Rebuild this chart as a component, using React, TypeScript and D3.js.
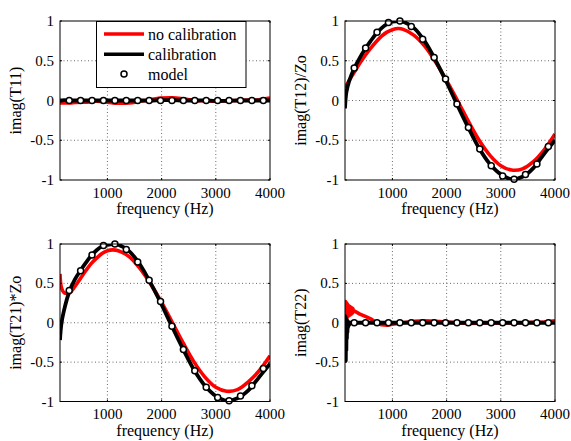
import React from "react";
import * as d3 from "d3";

// ---------- data ----------
const freq = [125, 150, 200, 300, 400, 500, 600, 700, 800, 900, 1000, 1100, 1200, 1400, 1600, 1800, 2000, 2200, 2400, 2600, 2800, 3000, 3200, 3400, 3600, 3800, 4000];

const t11NoCal = [-0.03, -0.03, -0.03, -0.03, -0.025, -0.02, -0.02, -0.015, -0.01, -0.015, -0.02, -0.03, -0.035, -0.03, -0.01, 0.01, 0.03, 0.035, 0.02, 0.0, -0.005, -0.01, -0.005, 0.0, 0.005, 0.01, 0.03];
const t11Cal = [0.0, 0.0, 0.005, 0.0, 0.0, 0.0, 0.0, 0.0, 0.0, 0.0, 0.0, 0.0, 0.0, 0.0, 0.0, 0.0, 0.005, 0.005, 0.0, 0.0, 0.0, -0.005, -0.005, 0.0, 0.0, 0.0, 0.0];

const t12NoCal = [0.16, 0.19, 0.25, 0.36, 0.47, 0.57, 0.66, 0.74, 0.81, 0.86, 0.89, 0.905, 0.895, 0.82, 0.68, 0.48, 0.25, 0.0, -0.26, -0.5, -0.69, -0.82, -0.875, -0.86, -0.77, -0.62, -0.42];
const t12Cal = [-0.1, 0.1, 0.24, 0.41, 0.54, 0.65, 0.75, 0.84, 0.91, 0.96, 0.99, 1.0, 0.99, 0.91, 0.74, 0.5, 0.23, -0.06, -0.34, -0.6, -0.8, -0.93, -0.99, -0.96, -0.85, -0.67, -0.5];

const t21NoCal = [0.62, 0.45, 0.38, 0.38, 0.46, 0.56, 0.66, 0.75, 0.82, 0.88, 0.915, 0.925, 0.915, 0.84, 0.69, 0.49, 0.26, 0.0, -0.26, -0.5, -0.69, -0.82, -0.87, -0.85, -0.75, -0.61, -0.42];
const t21Cal = [-0.22, -0.02, 0.16, 0.4, 0.55, 0.66, 0.76, 0.85, 0.92, 0.97, 0.99, 1.0, 0.99, 0.91, 0.74, 0.5, 0.23, -0.06, -0.34, -0.6, -0.8, -0.93, -0.99, -0.96, -0.86, -0.69, -0.52];

const freqT22 = [125, 130, 135, 140, 145, 150, 155, 160, 165, 170, 175, 180, 190, 200, 210, 220, 230, 240, 250, 260, 270, 280, 300, 400, 500, 600, 700, 800, 900, 1000, 1200, 1400, 1600, 1800, 2000, 2200, 2400, 2600, 2800, 3000, 3200, 3400, 3600, 3800, 4000];
const t22NoCal = [0.28, 0.06, 0.27, 0.05, 0.26, 0.05, 0.25, 0.06, 0.24, 0.07, 0.23, 0.08, 0.22, 0.09, 0.21, 0.1, 0.2, 0.11, 0.19, 0.12, 0.18, 0.14, 0.15, 0.11, 0.08, 0.05, 0.0, -0.025, -0.03, -0.02, 0.0, 0.02, 0.025, 0.02, 0.01, 0.0, -0.01, -0.005, 0.0, -0.005, 0.0, 0.0, 0.005, 0.01, 0.025];
const t22Cal = [0.1, -0.3, 0.08, -0.48, 0.05, -0.35, 0.04, -0.2, 0.03, -0.12, 0.02, -0.06, 0.01, -0.03, 0.0, 0.0, 0.0, 0.0, 0.0, 0.0, 0.0, 0.0, 0.0, 0.0, 0.0, 0.0, 0.0, 0.0, 0.0, 0.0, 0.0, 0.0, 0.0, 0.0, 0.0, 0.0, 0.0, 0.0, 0.0, 0.0, 0.0, 0.0, 0.0, 0.0, 0.0];

const modelFreq = [295, 505, 716, 927, 1138, 1348, 1559, 1770, 1980, 2191, 2402, 2612, 2823, 3034, 3245, 3455, 3666, 3877];
const modelDiag = [0, 0, 0, 0, 0, 0, 0, 0, 0, 0, 0, 0, 0, 0, 0, 0, 0, 0];
const modelOff = [0.41, 0.66, 0.86, 0.98, 1.0, 0.93, 0.77, 0.54, 0.27, -0.045, -0.34, -0.61, -0.82, -0.95, -0.99, -0.93, -0.8, -0.58];

const xTicks = [1000, 2000, 3000, 4000];
const yTicks = [-1, -0.5, 0, 0.5, 1];
const yTickLabels = ["-1", "-0.5", "0", "0.5", "1"];
const legendLabels = ["no calibration", "calibration", "model"];

// ---------- layout ----------
const FONT = { fontFamily: "Liberation Serif" };

type PanelSpec = {
  id: string;
  x0: number; x1: number; y0: number; y1: number;
  ylabel: string;
  f: number[]; red: number[]; black: number[];
  model: number[];
  smooth: boolean;
  legend?: boolean;
};

const panels: PanelSpec[] = [
  { id: "p11", x0: 60, x1: 270, y0: 21, y1: 180, ylabel: "imag(T11)", f: freq, red: t11NoCal, black: t11Cal, model: modelDiag, smooth: true, legend: true },
  { id: "p12", x0: 345, x1: 555, y0: 21, y1: 180, ylabel: "imag(T12)/Zo", f: freq, red: t12NoCal, black: t12Cal, model: modelOff, smooth: true },
  { id: "p21", x0: 60, x1: 270, y0: 244, y1: 401.5, ylabel: "imag(T21)*Zo", f: freq, red: t21NoCal, black: t21Cal, model: modelOff, smooth: true },
  { id: "p22", x0: 345, x1: 555, y0: 244, y1: 401.5, ylabel: "imag(T22)", f: freqT22, red: t22NoCal, black: t22Cal, model: modelDiag, smooth: false },
];

function Panel({ p }: { p: PanelSpec }) {
  const x = d3.scaleLinear().domain([125, 4000]).range([p.x0, p.x1]);
  const y = d3.scaleLinear().domain([-1, 1]).range([p.y1, p.y0]);
  const line = d3
    .line<number>()
    .x((_, i) => x(p.f[i]))
    .y((d) => y(d))
    .curve(p.smooth ? d3.curveCatmullRom : d3.curveLinear);
  const w = p.x1 - p.x0;
  const h = p.y1 - p.y0;
  return (
    <g>
      <defs>
        <clipPath id={"clip-" + p.id}>
          <rect x={p.x0} y={p.y0} width={w} height={h} />
        </clipPath>
      </defs>
      <rect x={p.x0} y={p.y0} width={w} height={h} fill="#fff" />
      {xTicks.filter((t) => t < 4000).map((t) => (
        <line key={"gx" + t} x1={x(t)} x2={x(t)} y1={p.y0} y2={p.y1} stroke="#444" strokeWidth={0.8} strokeDasharray="1,2.5" />
      ))}
      {yTicks.filter((t) => t > -1 && t < 1).map((t) => (
        <line key={"gy" + t} x1={p.x0} x2={p.x1} y1={y(t)} y2={y(t)} stroke="#444" strokeWidth={0.8} strokeDasharray="1,2.5" />
      ))}
      <g clipPath={`url(#clip-${p.id})`}>
        <path d={line(p.red) || ""} fill="none" stroke="#ff0000" strokeWidth={3.6} strokeLinejoin="round" />
        <path d={line(p.black) || ""} fill="none" stroke="#000" strokeWidth={3.8} strokeLinejoin="round" />
      </g>
      {p.model.map((v, i) => (
        <circle key={"m" + i} cx={x(modelFreq[i])} cy={y(v)} r={3} fill="#fff" stroke="#000" strokeWidth={1.5} />
      ))}
      {xTicks.map((t) => (
        <g key={"tx" + t}>
          <line x1={x(t)} x2={x(t)} y1={p.y1} y2={p.y1 - 2} stroke="#000" />
          <line x1={x(t)} x2={x(t)} y1={p.y0} y2={p.y0 + 2} stroke="#000" />
          <text x={x(t)} y={p.y1 + 17.5} textAnchor="middle" fontSize={15} style={FONT} fill="#000">{t}</text>
        </g>
      ))}
      {yTicks.map((t, i) => (
        <g key={"ty" + t}>
          <line x1={p.x0} x2={p.x0 + 2} y1={y(t)} y2={y(t)} stroke="#000" />
          <line x1={p.x1} x2={p.x1 - 2} y1={y(t)} y2={y(t)} stroke="#000" />
          <text x={p.x0 - 6} y={y(t) + 5} textAnchor="end" fontSize={15} style={FONT} fill="#000">{yTickLabels[i]}</text>
        </g>
      ))}
      <rect x={p.x0} y={p.y0} width={w} height={h} fill="none" stroke="#000" strokeWidth={1} />
      <text x={(p.x0 + p.x1) / 2} y={p.y1 + 34} textAnchor="middle" fontSize={16} style={FONT} fill="#000">frequency (Hz)</text>
      <text transform={`translate(${p.x0 - 39},${(p.y0 + p.y1) / 2}) rotate(-90)`} textAnchor="middle" fontSize={16} style={FONT} fill="#000">{p.ylabel}</text>
      {p.legend && (
        <g>
          <rect x={96.5} y={21.5} width={149.5} height={66} fill="#fff" stroke="#000" strokeWidth={1} />
          <line x1={104} x2={144} y1={34} y2={34} stroke="#ff0000" strokeWidth={3.4} />
          <line x1={104} x2={144} y1={54.3} y2={54.3} stroke="#000" strokeWidth={3.4} />
          <circle cx={124} cy={74} r={3} fill="#fff" stroke="#000" strokeWidth={1.5} />
          {legendLabels.map((s, i) => (
            <text key={s} x={148} y={39.5 + i * 20} fontSize={16} style={FONT} fill="#000">{s}</text>
          ))}
        </g>
      )}
    </g>
  );
}

export default function App() {
  return (
    <svg width={571} height={441} style={{ position: "absolute", left: 0, top: 0, background: "#fff" }}>
      <rect x={0} y={0} width={571} height={441} fill="#fff" />
      {panels.map((p) => (
        <Panel key={p.id} p={p} />
      ))}
    </svg>
  );
}
